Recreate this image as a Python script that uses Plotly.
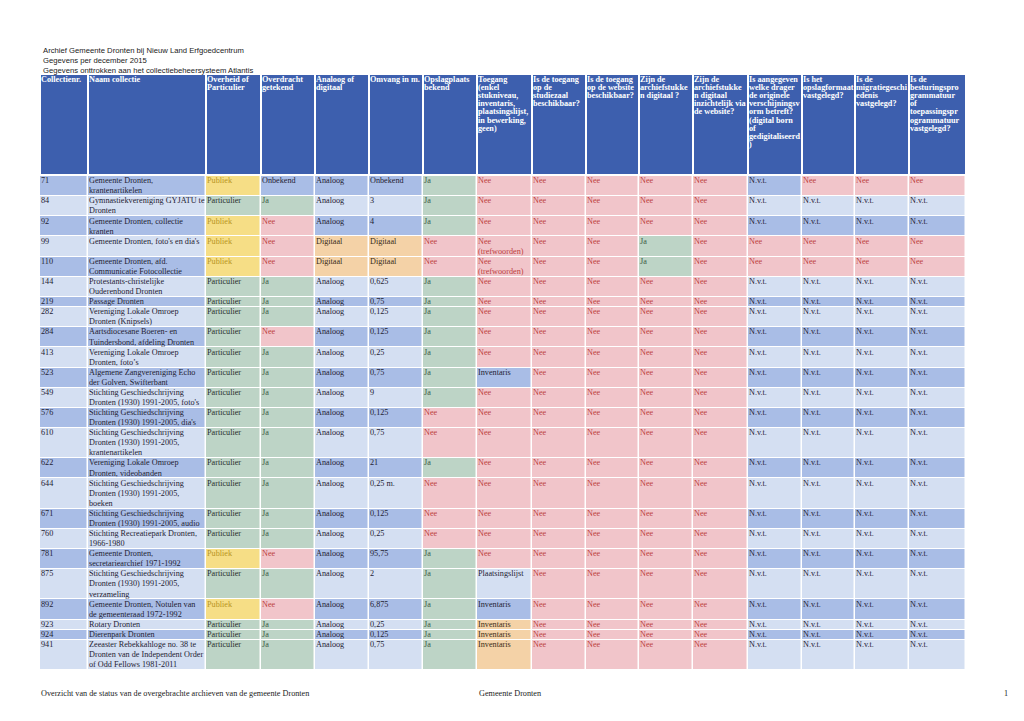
import plotly.graph_objects as go

# ---------------- DATA ----------------
titelregels = [
    "Archief Gemeente Dronten bij Nieuw Land Erfgoedcentrum",
    "Gegevens per december 2015",
    "Gegevens onttrokken aan het collectiebeheersysteem Atlantis",
]

kopteksten = [
    "Collectienr.",
    "Naam collectie",
    "Overheid of\nParticulier",
    "Overdracht\ngetekend",
    "Analoog of\ndigitaal",
    "Omvang in m.",
    "Opslagplaats\nbekend",
    "Toegang\n(enkel\nstukniveau,\ninventaris,\nplaatsingslijst,\nin bewerking,\ngeen)",
    "Is de toegang\nop de\nstudiezaal\nbeschikbaar?",
    "Is de toegang\nop de website\nbeschikbaar?",
    "Zijn de\narchiefstukke\nn digitaal ?",
    "Zijn de\narchiefstukke\nn digitaal\ninzichtelijk via\nde website?",
    "Is aangegeven\nwelke drager\nde originele\nverschijningsv\norm betreft?\n(digital born\nof\ngedigitaliseerd\n)",
    "Is het\nopslagformaat\nvastgelegd?",
    "Is de\nmigratiegeschi\nedenis\nvastgelegd?",
    "Is de\nbesturingspro\ngrammatuur\nof\ntoepassingspr\nogrammatuur\nvastgelegd?",
]

collectienr = ["71", "84", "92", "99", "110", "144", "219", "282", "284", "413", "523", "549",
               "576", "610", "622", "644", "671", "760", "781", "875", "892", "923", "924", "941"]

naam = [
    "Gemeente Dronten,\nkrantenartikelen",
    "Gymnastiekvereniging GYJATU te\nDronten",
    "Gemeente Dronten, collectie\nkranten",
    "Gemeente Dronten, foto's en dia's",
    "Gemeente Dronten, afd.\nCommunicatie Fotocollectie",
    "Protestants-christelijke\nOuderenbond Dronten",
    "Passage Dronten",
    "Vereniging Lokale Omroep\nDronten (Knipsels)",
    "Aartsdiocesane Boeren- en\nTuindersbond, afdeling Dronten",
    "Vereniging Lokale Omroep\nDronten, foto\u2019s",
    "Algemene Zangvereniging Echo\nder Golven, Swifterbant",
    "Stichting Geschiedschrijving\nDronten (1930) 1991-2005, foto's",
    "Stichting Geschiedschrijving\nDronten (1930) 1991-2005, dia's",
    "Stichting Geschiedschrijving\nDronten (1930) 1991-2005,\nkrantenartikelen",
    "Vereniging Lokale Omroep\nDronten, videobanden",
    "Stichting Geschiedschrijving\nDronten (1930) 1991-2005,\nboeken",
    "Stichting Geschiedschrijving\nDronten (1930) 1991-2005, audio",
    "Stichting Recreatiepark Dronten,\n1966-1980",
    "Gemeente Dronten,\nsecretariearchief 1971-1992",
    "Stichting Geschiedschrijving\nDronten (1930) 1991-2005,\nverzameling",
    "Gemeente Dronten, Notulen van\nde gemeenteraad 1972-1992",
    "Rotary Dronten",
    "Dierenpark Dronten",
    "Zeeaster Rebekkahloge no. 38 te\nDronten van de Independent Order\nof Odd Fellows 1981-2011",
]

overheid = ["Publiek", "Particulier", "Publiek", "Publiek", "Publiek", "Particulier", "Particulier",
            "Particulier", "Particulier", "Particulier", "Particulier", "Particulier", "Particulier",
            "Particulier", "Particulier", "Particulier", "Particulier", "Particulier", "Publiek",
            "Particulier", "Publiek", "Particulier", "Particulier", "Particulier"]

overdracht = ["Onbekend", "Ja", "Nee", "Nee", "Nee", "Ja", "Ja", "Ja", "Nee", "Ja", "Ja", "Ja",
              "Ja", "Ja", "Ja", "Ja", "Ja", "Ja", "Nee", "Ja", "Nee", "Ja", "Ja", "Ja"]

analoog = ["Analoog", "Analoog", "Analoog", "Digitaal", "Digitaal", "Analoog", "Analoog", "Analoog",
           "Analoog", "Analoog", "Analoog", "Analoog", "Analoog", "Analoog", "Analoog", "Analoog",
           "Analoog", "Analoog", "Analoog", "Analoog", "Analoog", "Analoog", "Analoog", "Analoog"]

omvang = ["Onbekend", "3", "4", "Digitaal", "Digitaal", "0,625", "0,75", "0,125", "0,125", "0,25",
          "0,75", "9", "0,125", "0,75", "21", "0,25 m.", "0,125", "0,25", "95,75", "2", "6,875",
          "0,25", "0,125", "0,75"]

opslagplaats = ["Ja", "Ja", "Ja", "Nee", "Nee", "Ja", "Ja", "Ja", "Ja", "Ja", "Ja", "Ja",
                "Nee", "Nee", "Ja", "Nee", "Nee", "Nee", "Ja", "Ja", "Ja", "Ja", "Ja", "Ja"]

toegang = ["Nee", "Nee", "Nee", "Nee\n(trefwoorden)", "Nee\n(trefwoorden)", "Nee", "Nee", "Nee",
           "Nee", "Nee", "Inventaris", "Nee", "Nee", "Nee", "Nee", "Nee", "Nee", "Nee", "Nee",
           "Plaatsingslijst", "Inventaris", "Inventaris", "Inventaris", "Inventaris"]

studiezaal = ["Nee"] * 24
website = ["Nee"] * 24
digitaal = ["Nee", "Nee", "Nee", "Ja", "Ja", "Nee", "Nee", "Nee", "Nee", "Nee", "Nee", "Nee",
            "Nee", "Nee", "Nee", "Nee", "Nee", "Nee", "Nee", "Nee", "Nee", "Nee", "Nee", "Nee"]
inzichtelijk = ["Nee"] * 24

drager = ["N.v.t.", "N.v.t.", "N.v.t.", "Nee", "Nee"] + ["N.v.t."] * 19
opslagformaat = ["Nee", "N.v.t.", "N.v.t.", "Nee", "Nee"] + ["N.v.t."] * 19
migratie = ["Nee", "N.v.t.", "N.v.t.", "Nee", "Nee"] + ["N.v.t."] * 19
besturing = ["Nee", "N.v.t.", "N.v.t.", "Nee", "Nee"] + ["N.v.t."] * 19

# Toegang-cellen die in het origineel oranje zijn gemarkeerd
oranje_toegang = ["923", "924", "941"]

voettekst_links = "Overzicht van de status van de overgebrachte archieven van de gemeente Dronten"
voettekst_midden = "Gemeente Dronten"
paginanummer = "1"

kolommen = [collectienr, naam, overheid, overdracht, analoog, omvang, opslagplaats, toegang,
            studiezaal, website, digitaal, inzichtelijk, drager, opslagformaat, migratie, besturing]

# ---------------- STYLES ----------------
W, H = 1024, 721
PAGINA_MARGE = 8          # default body margin of the html page
tabel_links = 40
kolombreedtes = [48, 118, 55, 54, 54, 54, 54, 55, 54, 53, 54, 55, 54, 53, 54, 57]
kop_boven, kop_onder = 75, 174
romp_boven = 176
regelhoogte = 10.08
kop_regelhoogte = 8.1

KLEUREN = ["#a9bde6",  # 0 donkere rij
           "#d4dff2",  # 1 lichte rij
           "#f6de86",  # 2 geel (Publiek)
           "#bdd4c6",  # 3 groen (Ja / Particulier)
           "#f1c5ca",  # 4 roze (Nee)
           "#f4d2a7",  # 5 oranje
           "#3d5fae"]  # 6 kop

T_DONKER = "#1f2233"
T_PUBLIEK = "#b8951f"
T_NEE = "#bd3f3f"
T_JA = "#3b5a45"
T_BRUIN = "#3a2c18"

SERIF = "Liberation Serif"
SANS = "Liberation Sans"


def cel_stijl(waarde, k, r):
    if waarde == "Publiek":
        return 2, T_PUBLIEK
    if waarde == "Particulier":
        return 3, "#2a2f2c"
    if waarde == "Ja":
        return 3, T_JA
    if waarde.startswith("Nee"):
        return 4, T_NEE
    if waarde == "Digitaal":
        return 5, T_BRUIN
    if k == 7 and collectienr[r] in oranje_toegang:
        return 5, T_BRUIN
    return r % 2, T_DONKER


# column edges
x_randen = [tabel_links]
for b in kolombreedtes:
    x_randen.append(x_randen[-1] + b)

n_rij = len(collectienr)
n_kol = len(kolommen)

# row heights from the number of text lines per row
y_randen = [romp_boven]
for r in range(n_rij):
    regels = max(len(kol[r].split("\n")) for kol in kolommen)
    y_randen.append(y_randen[-1] + regels * regelhoogte)

z = []
tx, ty, tt, tc = [], [], [], []
for r in range(n_rij):
    rij_z = []
    for k in range(n_kol):
        waarde = kolommen[k][r]
        code, kleur = cel_stijl(waarde, k, r)
        rij_z.append(code)
        for i, regel in enumerate(waarde.split("\n")):
            tx.append(x_randen[k] + 1)
            ty.append(y_randen[r] + i * regelhoogte + 5.2)
            tt.append(regel)
            tc.append(kleur)
    z.append(rij_z)

n_k = len(KLEUREN)
schaal = []
for i, c in enumerate(KLEUREN):
    schaal.append([i / n_k, c])
    schaal.append([(i + 1) / n_k, c])

fig = go.Figure()

# header cells
fig.add_trace(go.Heatmap(
    x=x_randen, y=[kop_boven, kop_onder], z=[[6] * n_kol],
    colorscale=schaal, zmin=-0.5, zmax=n_k - 0.5, showscale=False,
    xgap=2, ygap=0, hoverinfo="skip"))

# body cells
fig.add_trace(go.Heatmap(
    x=x_randen, y=y_randen, z=z,
    colorscale=schaal, zmin=-0.5, zmax=n_k - 0.5, showscale=False,
    xgap=1.5, ygap=1, hoverinfo="skip"))

# header text
hx, hy, ht = [], [], []
for k, kop in enumerate(kopteksten):
    for i, regel in enumerate(kop.split("\n")):
        hx.append(x_randen[k] + 1)
        hy.append(kop_boven + 5 + i * kop_regelhoogte)
        ht.append(regel)

fig.add_trace(go.Scatter(
    x=hx, y=hy, text=ht, mode="text", textposition="middle right",
    textfont=dict(family=SERIF, size=8.2, color="white", weight="bold"),
    hoverinfo="skip", cliponaxis=False, showlegend=False))

# body text
fig.add_trace(go.Scatter(
    x=tx, y=ty, text=tt, mode="text", textposition="middle right",
    textfont=dict(family=SERIF, size=8.2, color=tc),
    hoverinfo="skip", cliponaxis=False, showlegend=False))

annotaties = []
for i, regel in enumerate(titelregels):
    annotaties.append(dict(x=41, y=50 + i * 10, xref="x", yref="y", text=regel,
                           showarrow=False, xanchor="left", yanchor="middle",
                           font=dict(family=SANS, size=7.7, color="#1a1a1a")))
annotaties.append(dict(x=39, y=693, xref="x", yref="y", text=voettekst_links, showarrow=False,
                       xanchor="left", yanchor="middle",
                       font=dict(family=SERIF, size=8.2, color="#222222")))
annotaties.append(dict(x=477, y=693, xref="x", yref="y", text=voettekst_midden, showarrow=False,
                       xanchor="left", yanchor="middle",
                       font=dict(family=SERIF, size=8.2, color="#222222")))
annotaties.append(dict(x=1002, y=693, xref="x", yref="y", text=paginanummer, showarrow=False,
                       xanchor="left", yanchor="middle",
                       font=dict(family=SERIF, size=8.2, color="#222222")))

# figure sized to fit inside the page's body margin; axes map 1 unit = 1 screen pixel
breedte = W - 2 * PAGINA_MARGE
hoogte = H - 2 * PAGINA_MARGE
fig.update_layout(
    width=breedte, height=hoogte, margin=dict(l=0, r=0, t=0, b=0),
    paper_bgcolor="white", plot_bgcolor="white",
    xaxis=dict(range=[PAGINA_MARGE, PAGINA_MARGE + breedte], visible=False, fixedrange=True),
    yaxis=dict(range=[PAGINA_MARGE + hoogte, PAGINA_MARGE], visible=False, fixedrange=True),
    annotations=annotaties, showlegend=False,
)

fig.write_html("out.html")
